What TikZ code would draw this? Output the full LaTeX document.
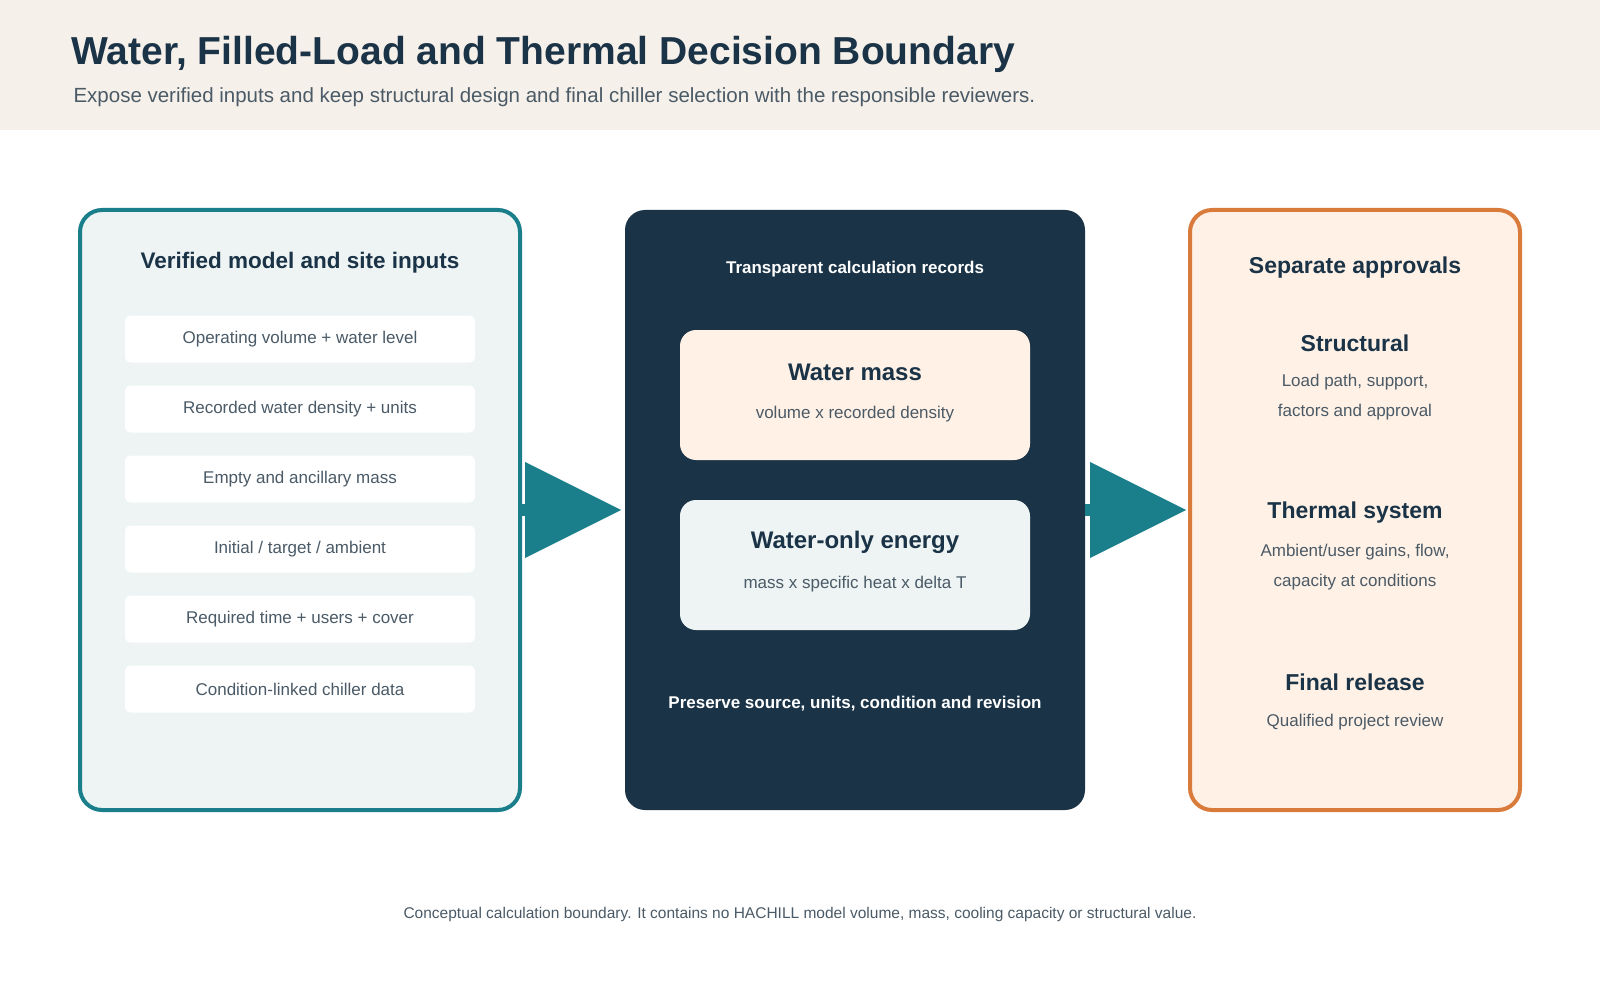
\documentclass[tikz,border=0pt]{standalone}
\usepackage{fontspec}
\setmainfont{Liberation Sans}
\definecolor{navy}{HTML}{1A3347}
\definecolor{teal}{HTML}{1A7F8A}
\definecolor{orng}{HTML}{D97B3A}
\definecolor{lteal}{HTML}{EEF4F4}
\definecolor{cream}{HTML}{F6F0EA}
\definecolor{peach}{HTML}{FFF1E6}
\definecolor{gtext}{HTML}{4A5A66}
\newcommand{\fs}[1]{\fontsize{#1}{#1}\selectfont}
\begin{document}
\begin{tikzpicture}[x=1pt,y=-1pt,
  item/.style={fill=white,rounded corners=6pt,minimum width=350pt,minimum height=47pt,text=gtext,font=\fs{17}},
  body/.style={text=gtext,font=\fs{17}},
  head/.style={text=navy,font=\bfseries\fs{23}},
  arr/.style={fill=teal,draw=none}]
\useasboundingbox (0,0) rectangle (1600,1000);
\fill[white] (0,0) rectangle (1600,1000);
\fill[cream] (0,0) rectangle (1600,130);
\node[anchor=base west,text=navy,font=\bfseries\fs{39}] (title) at (68,65) {Water, Filled-Load and Thermal Decision Boundary};
\node[anchor=base west,text=gtext,font=\fs{20.5}] (sub) at (70,103) {Expose verified inputs and keep structural design and final chiller selection with the responsible reviewers.};
% left panel
\draw[teal,line width=4pt,fill=lteal,rounded corners=22pt] (80,210) rectangle (520,810);
\node[head,font=\bfseries\fs{22.5}] (lt) at (300,263) {Verified model and site inputs};
\node[item] (i1) at (300,339) {Operating volume + water level};
\node[item] (i2) at (300,409) {Recorded water density + units};
\node[item] (i3) at (300,479) {Empty and ancillary mass};
\node[item] (i4) at (300,549) {Initial / target / ambient};
\node[item] (i5) at (300,619) {Required time + users + cover};
\node[item] (i6) at (300,689) {Condition-linked chiller data};
% middle panel
\fill[navy,rounded corners=20pt] (625,210) rectangle (1085,810);
\node[text=white,font=\bfseries\fs{17}] (mt) at (855,269) {Transparent calculation records};
\fill[peach,rounded corners=16pt] (680,330) rectangle (1030,460);
\node[head,font=\bfseries\fs{24}] (wm) at (855,372) {Water mass};
\node[body] (wms) at (855,414) {volume x recorded density};
\fill[lteal,rounded corners=16pt] (680,500) rectangle (1030,630);
\node[head,font=\bfseries\fs{24}] (we) at (855,542) {Water-only energy};
\node[body] (wes) at (855,584) {mass x specific heat x delta T};
\node[text=white,font=\bfseries\fs{17}] (pr) at (855,704) {Preserve source, units, condition and revision};
% arrows
\fill[teal] (520,504) rectangle (527,516);
\fill[arr] (525,462) -- (621,510) -- (525,558) -- cycle;
\fill[teal] (1085,504) rectangle (1092,516);
\fill[arr] (1090,462) -- (1186,510) -- (1090,558) -- cycle;
% right panel
\draw[orng,line width=4pt,fill=peach,rounded corners=22pt] (1190,210) rectangle (1520,810);
\node[head] (rt) at (1355,268) {Separate approvals};
\node[head] (s) at (1355,343) {Structural};
\node[body] (s1) at (1355,382) {Load path, support,};
\node[body] (s2) at (1355,412) {factors and approval};
\node[head] (t) at (1355,513) {Thermal system};
\node[body] (t1) at (1355,552) {Ambient/user gains, flow,};
\node[body] (t2) at (1355,582) {capacity at conditions};
\node[head] (f) at (1355,682) {Final release};
\node[body] (f1) at (1355,722) {Qualified project review};
\node[text=gtext,font=\fs{15.5}] (foot) at (800,914) {Conceptual calculation boundary. It contains no HACHILL model volume, mass, cooling capacity or structural value.};
\end{tikzpicture}
\end{document}
